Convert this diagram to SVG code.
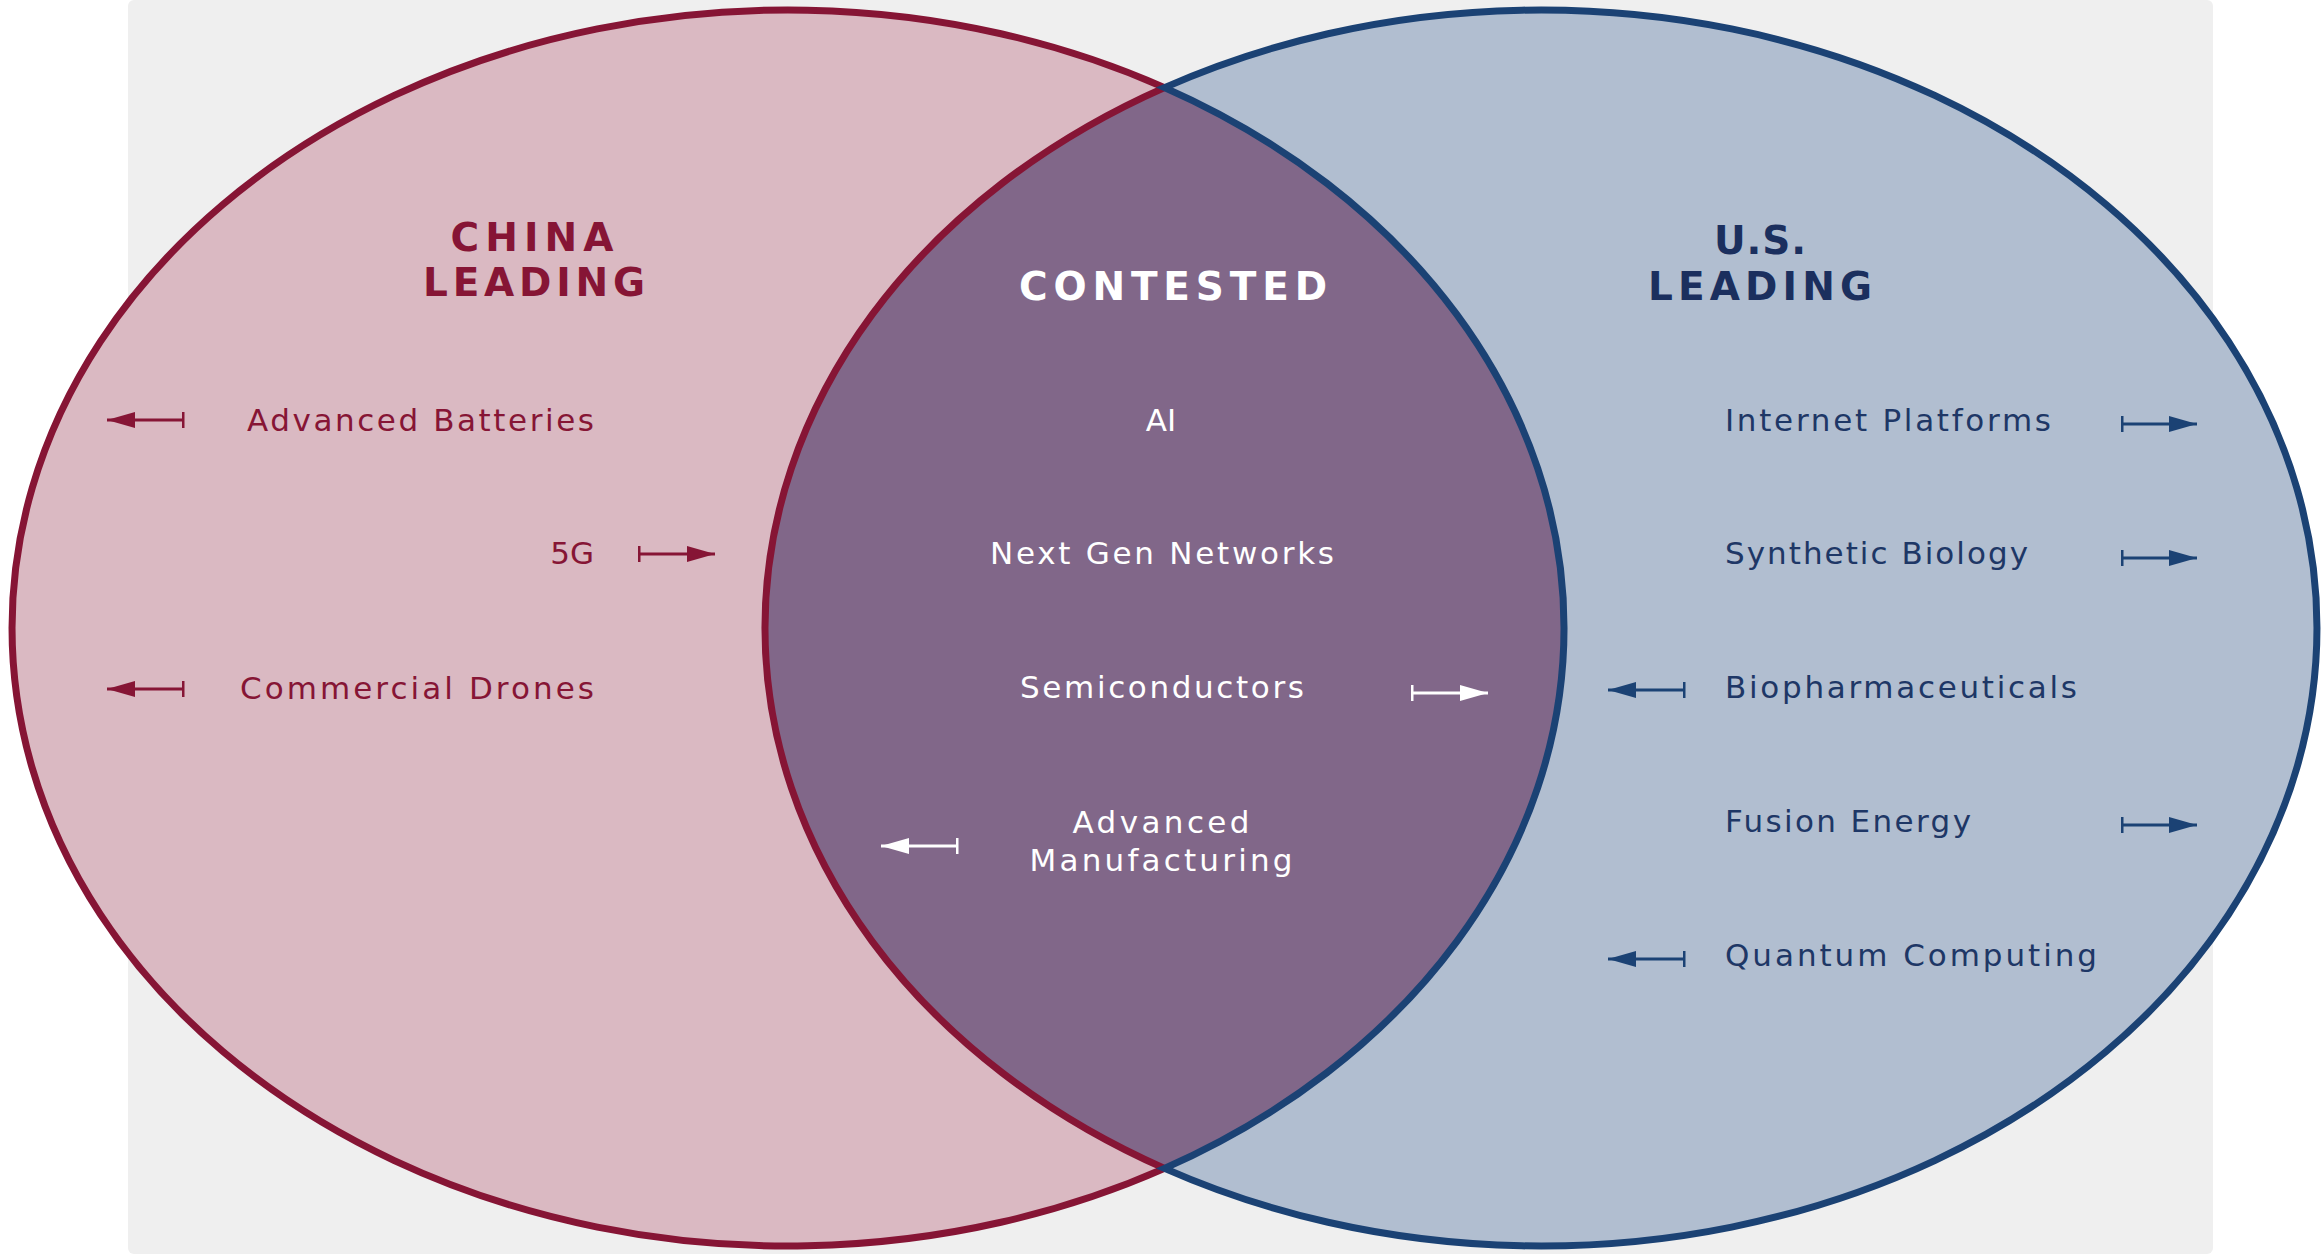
<svg xmlns="http://www.w3.org/2000/svg" width="2323" height="1254" viewBox="0 0 2323 1254">
  <style>
    .title { font-family: "DejaVu Sans", Inter, sans-serif; font-weight: 700; font-size: 39px; }
    .item { font-family: "DejaVu Sans", Inter, sans-serif; font-weight: 400; font-size: 31px; }
    .cn { fill: #861535; }
    .us-title { fill: #1B2F5E; }
    .us { fill: #1E3766; }
    .mid { fill: #FFFFFF; }
    .edge-cn { fill: #DAB9C2; stroke: #861535; stroke-width: 7; stroke-linejoin: miter; }
    .edge-us { fill: #B1BED0; stroke: #1B4274; stroke-width: 7; stroke-linejoin: miter; }
    .arrow { fill: none; stroke-width: 3; }
    .a-cn { stroke: #861535; marker-start: url(#bar-cn); marker-end: url(#head-cn); }
    .a-mid { stroke: #FFFFFF; marker-start: url(#bar-mid); marker-end: url(#head-mid); }
    .a-us { stroke: #1B4274; marker-start: url(#bar-us); marker-end: url(#head-us); }
  </style>
  <defs>
    <marker id="head-cn" markerUnits="userSpaceOnUse" viewBox="0 0 28 16" markerWidth="28" markerHeight="16" refX="28" refY="8" orient="auto">
      <path d="M0,0 L28,8 L0,16 Z" fill="#861535"/>
    </marker>
    <marker id="bar-cn" markerUnits="userSpaceOnUse" viewBox="0 0 3 16" markerWidth="3" markerHeight="16" refX="1.5" refY="8" orient="auto">
      <rect x="0" y="0" width="3" height="16" fill="#861535"/>
    </marker>
    <marker id="head-mid" markerUnits="userSpaceOnUse" viewBox="0 0 28 16" markerWidth="28" markerHeight="16" refX="28" refY="8" orient="auto">
      <path d="M0,0 L28,8 L0,16 Z" fill="#FFFFFF"/>
    </marker>
    <marker id="bar-mid" markerUnits="userSpaceOnUse" viewBox="0 0 3 16" markerWidth="3" markerHeight="16" refX="1.5" refY="8" orient="auto">
      <rect x="0" y="0" width="3" height="16" fill="#FFFFFF"/>
    </marker>
    <marker id="head-us" markerUnits="userSpaceOnUse" viewBox="0 0 28 16" markerWidth="28" markerHeight="16" refX="28" refY="8" orient="auto">
      <path d="M0,0 L28,8 L0,16 Z" fill="#1B4274"/>
    </marker>
    <marker id="bar-us" markerUnits="userSpaceOnUse" viewBox="0 0 3 16" markerWidth="3" markerHeight="16" refX="1.5" refY="8" orient="auto">
      <rect x="0" y="0" width="3" height="16" fill="#1B4274"/>
    </marker>
  </defs>

  <!-- page backdrop -->
  <rect x="0" y="0" width="2323" height="1254" fill="#FFFFFF"/>
  <rect x="128" y="0" width="2085" height="1254" rx="6" fill="#EFEFEF"/>

  <!-- venn regions: lens first, crescents on top so their outlines stay whole -->
  <g id="regions">
    <path id="lens" d="M1164.5,87.6 A776,618 0 0 1 1164.5,1168.4 A776,618 0 0 1 1164.5,87.6 Z" fill="#816789"/>
    <path id="china-region" class="edge-cn" d="M1164.5,87.6 A776,618 0 1 0 1164.5,1168.4 A776,618 0 0 1 1164.5,87.6 Z"/>
    <path id="us-region" class="edge-us" d="M1164.5,87.6 A776,618 0 1 1 1164.5,1168.4 A776,618 0 0 0 1164.5,87.6 Z"/>
  </g>

  <!-- headings -->
  <g id="heading-china" class="title cn" text-anchor="middle">
    <text x="532" y="251" textLength="163">CHINA</text>
    <text x="534" y="296" textLength="222">LEADING</text>
  </g>
  <g id="heading-contested" class="title mid" text-anchor="middle">
    <text x="1173" y="300" textLength="308">CONTESTED</text>
  </g>
  <g id="heading-us" class="title us-title" text-anchor="middle">
    <text x="1760" y="254" textLength="92">U.S.</text>
    <text x="1760" y="300" textLength="224">LEADING</text>
  </g>

  <!-- China-leading technologies -->
  <g id="node-advanced-batteries" class="item cn" text-anchor="end">
    <text x="594" y="431" textLength="347">Advanced Batteries</text>
  </g>
  <g id="node-5g" class="item cn" text-anchor="end">
    <text x="594" y="564">5G</text>
  </g>
  <g id="node-commercial-drones" class="item cn" text-anchor="end">
    <text x="594" y="699" textLength="354">Commercial Drones</text>
  </g>

  <!-- contested technologies -->
  <g id="node-ai" class="item mid" text-anchor="middle">
    <text x="1161" y="431">AI</text>
  </g>
  <g id="node-next-gen-networks" class="item mid" text-anchor="middle">
    <text x="1162" y="564" textLength="344">Next Gen Networks</text>
  </g>
  <g id="node-semiconductors" class="item mid" text-anchor="middle">
    <text x="1162" y="698" textLength="284">Semiconductors</text>
  </g>
  <g id="node-advanced-manufacturing" class="item mid" text-anchor="middle">
    <text x="1161" y="833" textLength="177">Advanced</text>
    <text x="1161" y="871" textLength="263">Manufacturing</text>
  </g>

  <!-- U.S.-leading technologies -->
  <g id="node-internet-platforms" class="item us">
    <text x="1725" y="431" textLength="326">Internet Platforms</text>
  </g>
  <g id="node-synthetic-biology" class="item us">
    <text x="1725" y="564" textLength="303">Synthetic Biology</text>
  </g>
  <g id="node-biopharmaceuticals" class="item us">
    <text x="1725" y="698" textLength="352">Biopharmaceuticals</text>
  </g>
  <g id="node-fusion-energy" class="item us">
    <text x="1725" y="832" textLength="246">Fusion Energy</text>
  </g>
  <g id="node-quantum-computing" class="item us">
    <text x="1725" y="966" textLength="372">Quantum Computing</text>
  </g>

  <!-- trend arrows: bar marks the tail, triangle the direction of movement -->
  <g id="connectors" class="arrow">
    <path class="a-cn" d="M183,420 H107"/>
    <path class="a-cn" d="M639,554 H715"/>
    <path class="a-cn" d="M183,689 H107"/>
    <path class="a-mid" d="M1412,693 H1488"/>
    <path class="a-mid" d="M957,846 H881"/>
    <path class="a-us" d="M2122,424 H2197"/>
    <path class="a-us" d="M2122,558 H2197"/>
    <path class="a-us" d="M1684,690 H1608"/>
    <path class="a-us" d="M2122,825 H2197"/>
    <path class="a-us" d="M1684,959 H1608"/>
  </g>
</svg>
